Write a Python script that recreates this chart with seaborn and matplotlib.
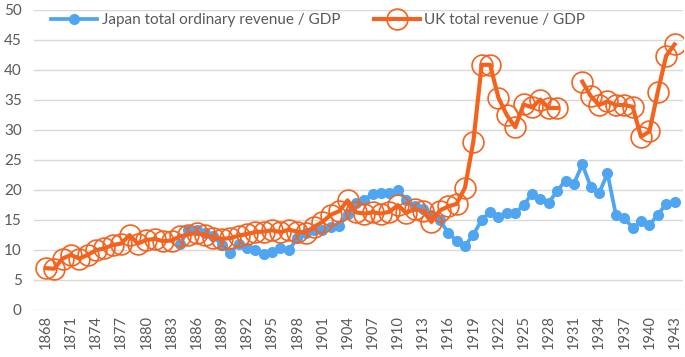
import numpy as np
import pandas as pd
import seaborn as sns
import matplotlib.pyplot as plt
from matplotlib.lines import Line2D

years = list(range(1868, 1944))

# Japan series starts in 1884
japan_years = list(range(1884, 1944))
japan = [11.0, 13.2, 13.3, 12.7, 12.2, 10.8, 9.4, 11.0, 10.3, 9.9,
         9.3, 9.6, 10.2, 9.9, 11.9, 12.7, 13.3, 13.3, 13.8, 13.9,
         16.0, 17.8, 18.3, 19.3, 19.4, 19.5, 19.9, 18.3, 17.3, 16.8,
         15.8, 14.9, 12.8, 11.5, 10.6, 12.5, 14.9, 16.3, 15.5, 16.1,
         16.1, 17.4, 19.3, 18.5, 17.8, 19.8, 21.5, 21.0, 24.2, 20.5,
         19.4, 22.7, 15.8, 15.3, 13.6, 14.7, 14.1, 15.8, 17.6, 18.0]

uk = [6.9, 6.8, 8.5, 9.1, 8.5, 9.1, 9.9, 10.2, 10.75, 11.0,
      12.4, 11.0, 11.6, 11.75, 11.4, 11.5, 12.2, 12.5, 12.8, 12.4,
      12.0, 11.8, 11.9, 12.3, 12.6, 12.9, 13.0, 13.2, 12.9, 13.3,
      13.0, 12.8, 13.8, 14.6, 15.8, 16.4, 18.2, 16.2, 16.0, 16.2,
      16.0, 16.3, 17.4, 16.1, 16.8, 16.4, 14.6, 16.5, 17.2, 17.6,
      20.3, 28.0, 40.8, 40.8, 35.3, 32.4, 30.4, 34.2, 33.7, 35.0,
      33.6, 33.6, np.nan, np.nan, 38.0, 35.6, 34.1, 34.7, 34.1, 34.1,
      33.8, 28.8, 29.7, 36.3, 42.3, 44.2]

blue = '#4EA5F2'
orange = '#F4631E'

jp = pd.DataFrame({'year': japan_years, 'value': japan})
ukdf = pd.DataFrame({'year': years, 'value': uk})
ukdf['seg'] = ukdf['value'].isna().cumsum()
ukdf = ukdf.dropna()

plt.rcParams['font.family'] = ['Lato', 'DejaVu Sans']
fig = plt.figure(figsize=(6.85, 3.57), dpi=100)
ax = fig.add_axes([0.05, 0.133, 0.947, 0.84])

sns.lineplot(data=jp, x='year', y='value', ax=ax, color=blue, lw=2.7,
             marker='o', markersize=8, markeredgewidth=0, legend=False)
sns.lineplot(data=ukdf, x='year', y='value', units='seg', estimator=None,
             ax=ax, color=orange, lw=3.0, marker='o', markersize=15,
             markerfacecolor='none', markeredgecolor=orange,
             markeredgewidth=1.2, legend=False)

ax.set_ylim(0, 50)
ax.set_yticks(range(0, 51, 5))
ax.set_xlim(1868 - 1.37, 1943 + 1.0)
ax.set_xticks(range(1868, 1944, 3))
ax.tick_params(axis='x', labelrotation=90, length=0, labelsize=10.5,
               colors='#595959', pad=4)
ax.tick_params(axis='y', length=0, labelsize=11, colors='#595959', pad=9)
ax.grid(axis='y', color='#D9D9D9', lw=1)
ax.set_axisbelow(True)
for s in ax.spines.values():
    s.set_visible(False)
ax.set_xlabel('')
ax.set_ylabel('')

handles = [
    Line2D([], [], color=blue, lw=2.7, marker='o', markersize=8,
           markeredgewidth=0),
    Line2D([], [], color=orange, lw=3.0, marker='o', markersize=15,
           markerfacecolor='none', markeredgecolor=orange, markeredgewidth=1.2),
]
ax.legend(handles, ['Japan total ordinary revenue / GDP', 'UK total revenue / GDP'],
          loc='upper left', bbox_to_anchor=(0.005, 1.035), ncol=2,
          frameon=False, fontsize=11, labelcolor='#595959',
          handlelength=3.0, handletextpad=0.3, columnspacing=2.2)

fig.savefig('out.png', dpi=100)
